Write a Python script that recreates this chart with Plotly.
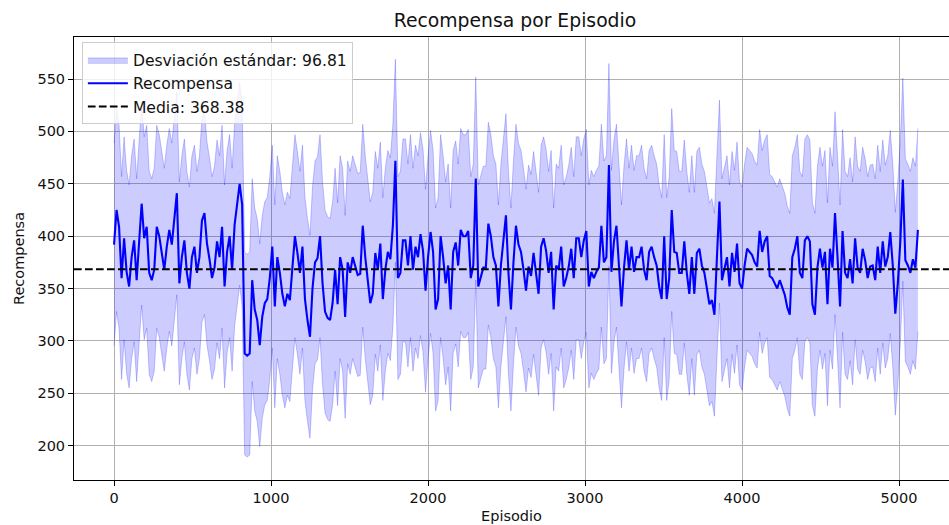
import plotly.graph_objects as go

# ---- data ----
EPISODE_STEP = 16
REWARD = [
    392, 425, 409, 360, 398, 366, 352, 380, 396, 358,
    395, 431, 398, 409, 365, 358, 368, 409, 400, 382,
    368, 390, 406, 392, 420, 441, 355, 380, 396, 365,
    350, 380, 390, 365, 380, 415, 422, 393, 378, 360,
    370, 395, 380, 409, 352, 385, 400, 368, 411, 430,
    450, 430, 288, 286, 288, 358, 330, 320, 296, 323,
    336, 340, 360, 390, 333, 380, 365, 345, 333, 345,
    339, 370, 400, 384, 365, 390, 340, 320, 304, 350,
    375, 379, 400, 355, 328, 322, 320, 336, 368, 335,
    380, 368, 323, 375, 365, 380, 371, 363, 364, 410,
    380, 358, 336, 345, 384, 368, 393, 340, 368, 385,
    378, 410, 472, 360, 365, 396, 396, 372, 400, 368,
    390, 380, 402, 386, 348, 380, 404, 385, 330, 340,
    400, 380, 355, 372, 330, 385, 394, 372, 406, 400,
    400, 405, 360, 372, 455, 352, 360, 370, 370, 412,
    400, 380, 372, 333, 372, 398, 420, 365, 330, 375,
    410, 392, 385, 368, 348, 371, 362, 384, 366, 345,
    390, 398, 386, 365, 385, 330, 372, 368, 390, 352,
    360, 371, 388, 360, 398, 398, 380, 396, 405, 352,
    366, 360, 366, 370, 410, 375, 380, 468, 366, 395,
    410, 375, 333, 370, 396, 368, 390, 366, 380, 380,
    390, 368, 358, 385, 390, 380, 372, 352, 340, 400,
    340, 360, 425, 385, 384, 365, 365, 395, 365, 345,
    380, 345, 384, 388, 372, 365, 350, 335, 339, 325,
    380, 433, 358, 370, 380, 352, 384, 366, 393, 355,
    350, 372, 388, 385, 382, 375, 371, 405, 385, 395,
    400, 362, 360, 355, 350, 358, 350, 344, 332, 325,
    380, 388, 400, 365, 360, 396, 400, 395, 335, 325,
    370, 388, 370, 385, 335, 388, 370, 422, 380, 333,
    405, 365, 360, 378, 355, 398, 370, 365, 388, 377,
    360, 371, 372, 358, 390, 365, 395, 371, 380, 404,
    372, 326, 355, 395, 454, 377, 372, 365, 378, 370,
    406,
]
EPISODES = [i * EPISODE_STEP for i in range(len(REWARD))]
MEAN = 368.38
STD = 96.81

X_TICKS = [0, 1000, 2000, 3000, 4000, 5000]
Y_TICKS = [200, 250, 300, 350, 400, 450, 500, 550]
X_RANGE = [-255, 5318]
Y_RANGE = [167.3, 590.1]

upper = [r + STD for r in REWARD]
lower = [r - STD for r in REWARD]

FONT = "DejaVu Sans"
TICK_SIZE = 14.5
band_edge = "rgba(0,0,255,0.22)"

fig = go.Figure()
fig.add_trace(go.Scatter(
    x=EPISODES, y=lower, mode="lines",
    line=dict(color=band_edge, width=1),
    showlegend=False, hoverinfo="skip", legendgroup="g0",
))
fig.add_trace(go.Scatter(
    x=EPISODES, y=upper, mode="lines", fill="tonexty",
    fillcolor="rgba(0,0,255,0.2)",
    line=dict(color=band_edge, width=1),
    name=f"Desviación estándar: {STD:.2f}", legendgroup="g0",
))
fig.add_trace(go.Scatter(
    x=EPISODES, y=REWARD, mode="lines",
    line=dict(color="#0000ff", width=2.1),
    name="Recompensa", legendgroup="g1",
))
fig.add_trace(go.Scatter(
    x=X_RANGE, y=[MEAN, MEAN], mode="lines",
    line=dict(color="black", width=2, dash="7.7px,3.3px"),
    name=f"Media: {MEAN:.2f}", legendgroup="g2",
))

axis_common = dict(
    showgrid=True, gridcolor="#b0b0b0", gridwidth=0.8,
    zeroline=False, showline=True, linecolor="black", linewidth=1,
    ticks="outside", ticklen=5, tickwidth=1, tickcolor="black",
    tickfont=dict(family=FONT, size=TICK_SIZE, color="#111111"),
)

fig.update_layout(
    width=949, height=525,
    margin=dict(l=74, r=0, t=37, b=45),
    paper_bgcolor="white", plot_bgcolor="white",
    font=dict(family=FONT, size=TICK_SIZE, color="black"),
    title=dict(
        text="Recompensa por Episodio",
        font=dict(family=FONT, size=18.8, color="#111111"),
        x=515 / 949, xref="container", xanchor="center",
        y=1 - 20 / 525, yref="container", yanchor="middle",
    ),
    xaxis=dict(
        range=X_RANGE, tickvals=X_TICKS, mirror=True,
        title=dict(text="Episodio", standoff=5,
                   font=dict(family=FONT, size=TICK_SIZE, color="#111111")),
        **axis_common,
    ),
    yaxis=dict(
        range=Y_RANGE, tickvals=Y_TICKS, mirror=False,
        title=dict(text="Recompensa", standoff=9,
                   font=dict(family=FONT, size=TICK_SIZE, color="#111111")),
        **axis_common,
    ),
    legend=dict(
        x=0.009, y=0.988, xanchor="left", yanchor="top",
        bgcolor="rgba(255,255,255,0.8)", bordercolor="#cccccc", borderwidth=1,
        font=dict(family=FONT, size=15.6, color="#111111"),
        tracegroupgap=2, traceorder="normal", itemwidth=40,
    ),
    showlegend=True,
)

fig.write_html("out.html", config={"displayModeBar": False})
